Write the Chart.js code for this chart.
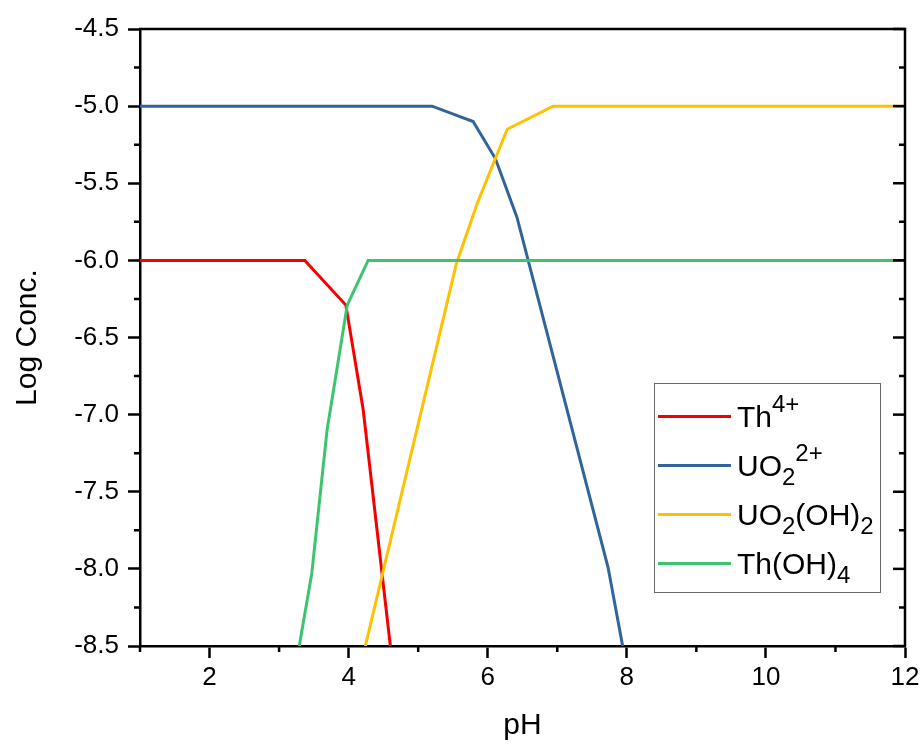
<!DOCTYPE html>
<html>
<head>
<meta charset="utf-8">
<title>Log Conc. vs pH</title>
<script src="https://cdn.jsdelivr.net/npm/chart.js@4.4.1/dist/chart.umd.min.js"></script>
<style>
  body { margin: 0; background: #fff; }
  .plot_wrap { position: relative; width: 924px; height: 746px; }
  .plot_legend {
    position: absolute; left: 654px; top: 383px; width: 227px; height: 210px;
    box-sizing: border-box; border: 1.5px solid #666; padding-top: 8px;
    font: 30px "Liberation Sans", Arial, sans-serif; color: #000;
  }
  .plot_legend__row { height: 49px; display: flex; align-items: center; }
  .plot_legend__line { width: 73px; height: 3px; margin-left: 3px; margin-right: 6px; }
  .plot_legend__text { line-height: 30px; white-space: nowrap; }
  .plot_legend sup, .plot_legend sub {
    font-size: 24px; line-height: 0; position: relative; vertical-align: baseline;
  }
  .plot_legend sup { top: -15px; }
  .plot_legend sub { top: 9px; }
</style>
</head>
<body>
<div class="plot_wrap">
  <canvas id="speciesChart" width="924" height="746"></canvas>
  <div class="plot_legend"></div>
</div>
<script>
// Series (pH, log concentration)
const thPH = [1, 3.37, 3.96, 4.21, 4.6];
const thLog = [-6.0, -6.0, -6.29, -6.97, -8.5];

const uo2PH = [1, 5.2, 5.79, 6.11, 6.42, 7.73, 7.94];
const uo2Log = [-5.0, -5.0, -5.1, -5.34, -5.72, -7.99, -8.5];

const uo2ohPH = [4.24, 5.55, 5.85, 6.28, 6.94, 12];
const uo2ohLog = [-8.5, -6.02, -5.63, -5.15, -5.0, -5.0];

const thohPH = [3.29, 3.47, 3.69, 3.98, 4.28, 12];
const thohLog = [-8.5, -8.03, -7.1, -6.29, -6.0, -6.0];

const seriesNames = ["Th4+", "UO2 2+", "UO2(OH)2", "Th(OH)4"];
const legendLabels = [
  "Th<sup>4+</sup>",
  "UO<sub>2</sub><sup>2+</sup>",
  "UO<sub>2</sub>(OH)<sub>2</sub>",
  "Th(OH)<sub>4</sub>",
];
const seriesColors = ["#f50000", "#30649a", "#ffc000", "#3cc46e"];

const xMin = 1, xMax = 12;
const yMin = -8.5, yMax = -4.5;

const fontFamily = '"Liberation Sans", Arial, sans-serif';

const toPoints = (xs, ys) => xs.map((x, i) => ({ x: x, y: ys[i] }));
const isMajorX = (v) => Math.round(v) % 2 === 0;
const isMajorY = (v) => Math.abs(v * 2 - Math.round(v * 2)) < 1e-6;

// top border, right axis ticks (inward) and minor ticks
const framePlugin = {
  id: "frame",
  afterDraw(chart) {
    const { ctx, chartArea: a, scales } = chart;
    ctx.save();
    ctx.strokeStyle = "#000";
    ctx.lineWidth = 2.5;
    ctx.beginPath();
    ctx.moveTo(a.left - 1, a.top);
    ctx.lineTo(a.right, a.top);
    ctx.lineTo(a.right, a.bottom);
    ctx.stroke();

    scales.y.ticks.forEach((t) => {
      const py = scales.y.getPixelForValue(t.value);
      const major = isMajorY(t.value);
      ctx.beginPath();
      if (!major) {
        ctx.moveTo(a.left - 6, py);
        ctx.lineTo(a.left, py);
      }
      ctx.moveTo(a.right - (major ? 12 : 6), py);
      ctx.lineTo(a.right, py);
      ctx.stroke();
    });

    scales.x.ticks.forEach((t) => {
      if (isMajorX(t.value)) return;
      const px = scales.x.getPixelForValue(t.value);
      ctx.beginPath();
      ctx.moveTo(px, a.bottom);
      ctx.lineTo(px, a.bottom + 6);
      ctx.stroke();
    });
    ctx.restore();
  },
};

const datasets = [
  toPoints(thPH, thLog),
  toPoints(uo2PH, uo2Log),
  toPoints(uo2ohPH, uo2ohLog),
  toPoints(thohPH, thohLog),
].map((points, i) => ({
  label: seriesNames[i],
  data: points,
  borderColor: seriesColors[i],
  backgroundColor: seriesColors[i],
  borderWidth: 3,
  pointRadius: 0,
  tension: 0,
  fill: false,
  order: seriesNames.length - i,
}));

const ctx = document.getElementById("speciesChart").getContext("2d");
const speciesChart = new Chart(ctx, {
  type: "line",
  data: { datasets: datasets },
  options: {
    responsive: false,
    animation: false,
    layout: { padding: { top: 29, right: 19, left: 0, bottom: 0 } },
    plugins: {
      legend: { display: false },
      tooltip: { enabled: false },
    },
    scales: {
      x: {
        type: "linear",
        min: xMin,
        max: xMax,
        afterFit: (scale) => { scale.height = 100; },
        ticks: {
          stepSize: 1,
          autoSkip: false,
          maxRotation: 0,
          padding: 4,
          color: "#000",
          font: { family: fontFamily, size: 26 },
          callback: (v) => (isMajorX(v) ? String(v) : ""),
        },
        grid: {
          drawOnChartArea: false,
          tickLength: 12,
          tickWidth: 2.5,
          tickColor: (c) => (c.tick && isMajorX(c.tick.value) ? "#000" : "rgba(0,0,0,0)"),
        },
        border: { color: "#000", width: 2.5 },
        title: {
          display: true,
          text: "pH",
          color: "#000",
          font: { family: fontFamily, size: 30 },
          padding: { top: 0, bottom: 2 },
        },
      },
      y: {
        type: "linear",
        min: yMin,
        max: yMax,
        afterFit: (scale) => { scale.width = 140; },
        ticks: {
          stepSize: 0.25,
          autoSkip: false,
          padding: 9,
          color: "#000",
          font: { family: fontFamily, size: 26 },
          callback: (v) => (isMajorY(v) ? v.toFixed(1) : ""),
        },
        grid: {
          drawOnChartArea: false,
          tickLength: 12,
          tickWidth: 2.5,
          tickColor: (c) => (c.tick && isMajorY(c.tick.value) ? "#000" : "rgba(0,0,0,0)"),
        },
        border: { color: "#000", width: 2.5 },
        title: {
          display: true,
          text: "Log Conc.",
          color: "#000",
          font: { family: fontFamily, size: 30 },
          padding: { top: 10, bottom: 0 },
        },
      },
    },
  },
  plugins: [framePlugin],
});

// Legend with sub/superscripts as html text
const legendBox = document.querySelector(".plot_legend");
legendLabels.forEach((label, i) => {
  const row = document.createElement("div");
  row.classList.add("plot_legend__row");
  const line = document.createElement("span");
  line.classList.add("plot_legend__line");
  line.style.background = seriesColors[i];
  const text = document.createElement("span");
  text.classList.add("plot_legend__text");
  text.innerHTML = label;
  row.appendChild(line);
  row.appendChild(text);
  legendBox.appendChild(row);
});
</script>
</body>
</html>
